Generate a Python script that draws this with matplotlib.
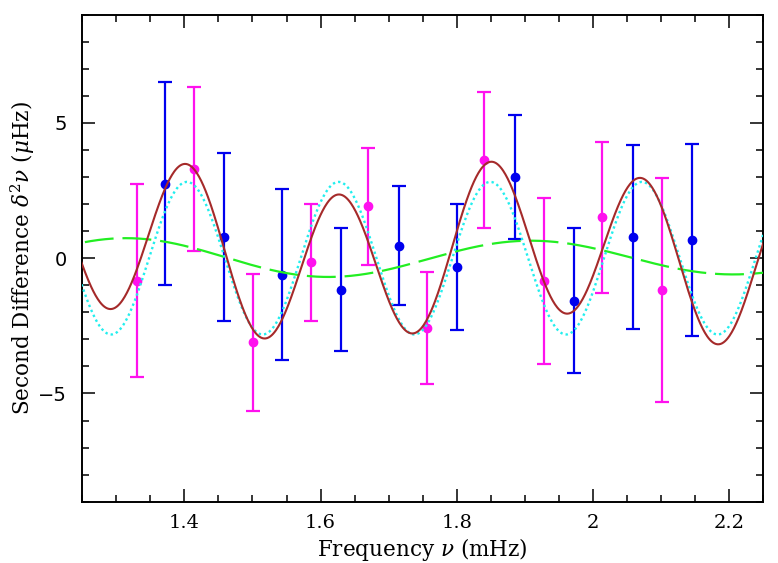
import numpy as np
import matplotlib
matplotlib.use("Agg")
import matplotlib.pyplot as plt
from matplotlib.ticker import MultipleLocator, FixedLocator, FixedFormatter

# ---- data ----
nu_blue = [1.372, 1.458, 1.544, 1.630, 1.715, 1.800, 1.885, 1.972, 2.059, 2.146]
d2_blue = [2.76, 0.78, -0.61, -1.16, 0.46, -0.32, 3.00, -1.57, 0.78, 0.68]
err_blue = [3.76, 3.11, 3.17, 2.27, 2.19, 2.32, 2.28, 2.69, 3.41, 3.54]

nu_mag = [1.330, 1.414, 1.501, 1.586, 1.670, 1.756, 1.840, 1.928, 2.013, 2.102]
d2_mag = [-0.83, 3.29, -3.10, -0.15, 1.92, -2.58, 3.63, -0.85, 1.51, -1.19]
err_mag = [3.57, 3.02, 2.53, 2.17, 2.17, 2.07, 2.52, 3.06, 2.79, 4.14]

# model-fit parameters
bcz_amp, bcz_period, bcz_peak = 2.82, 0.2228, 1.4037      # cyan dotted
he_amp, he_slope, he_period, he_peak = 0.74, -0.157, 0.595, 1.316  # green dashed
total_offset = 0.22                                        # brown = cyan + green + offset

x_ticks = [1.4, 1.6, 1.8, 2.0, 2.2]
x_ticklabels = ["1.4", "1.6", "1.8", "2", "2.2"]
y_ticks = [-5, 0, 5]
y_ticklabels = ["\u22125", "0", "5"]

# ---- figure ----
plt.rcParams['mathtext.fontset'] = 'dejavuserif'
fig = plt.figure(figsize=(7.78, 5.63), dpi=100)
ax = fig.add_axes([0.1058, 0.1089, 0.9807 - 0.1058, 0.9739 - 0.1089])

nu = np.linspace(1.2, 2.3, 1000)
bcz = bcz_amp * np.cos(2 * np.pi * (nu - bcz_peak) / bcz_period)
he = (he_amp + he_slope * (nu - he_peak)) * np.cos(2 * np.pi * (nu - he_peak) / he_period)
total = bcz + he + total_offset

ax.errorbar(nu_blue, d2_blue, yerr=err_blue, fmt='o', color='#0000ee', ms=6,
            elinewidth=1.6, capsize=5, capthick=1.6, zorder=3)
ax.errorbar(nu_mag, d2_mag, yerr=err_mag, fmt='o', color='#ff11ee', ms=6,
            elinewidth=1.6, capsize=5, capthick=1.6, zorder=3)

ln_he, = ax.plot(nu, he, color='#22ee22', lw=1.6, zorder=4)
ln_he.set_dashes((13, 4))
ln_bcz, = ax.plot(nu, bcz, color='#22eeee', lw=1.7, zorder=4)
ln_bcz.set_dashes((1, 1.3))
ax.plot(nu, total, color='#a52a2a', lw=1.5, zorder=5)

ax.set_xlim(1.25, 2.25)
ax.set_ylim(-9, 9)

ax.xaxis.set_major_locator(FixedLocator(x_ticks))
ax.xaxis.set_major_formatter(FixedFormatter(x_ticklabels))
ax.xaxis.set_minor_locator(MultipleLocator(0.05))
ax.yaxis.set_major_locator(FixedLocator(y_ticks))
ax.yaxis.set_major_formatter(FixedFormatter(y_ticklabels))
ax.yaxis.set_minor_locator(MultipleLocator(1))

ax.tick_params(which='both', direction='in', top=True, right=True, width=1.1, color='black')
ax.tick_params(which='major', length=9.4)
ax.tick_params(which='minor', length=4.7)
ax.tick_params(axis='x', which='major', pad=9, labelsize=14)
ax.tick_params(axis='y', which='major', pad=11, labelsize=14)
for lab in ax.get_xticklabels():
    lab.set_family('DejaVu Serif')
for lab in ax.get_yticklabels():
    lab.set_family('DejaVu Sans')
for s in ax.spines.values():
    s.set_linewidth(1.4)

ax.set_xlabel(r'Frequency $\nu$ (mHz)', family='DejaVu Serif', fontsize=15.5, labelpad=3)
ax.set_ylabel(r'Second Difference $\delta^2\nu$ ($\mu$Hz)', family='DejaVu Serif',
              fontsize=15.5, labelpad=1)

fig.savefig('out.png', dpi=100)
